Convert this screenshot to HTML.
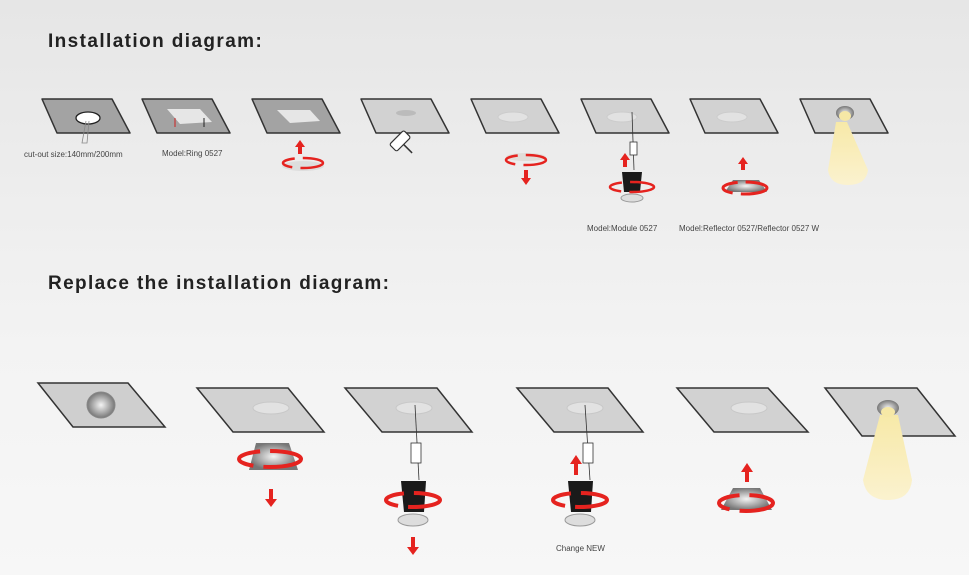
<!DOCTYPE html>
<html><head><meta charset="utf-8"><style>
html,body{margin:0;padding:0;width:969px;height:575px;overflow:hidden}
body{background:linear-gradient(#e6e6e6,#f3f3f3 60%,#f7f7f7);font-family:"Liberation Sans",sans-serif}
</style></head><body>
<svg width="969" height="575" viewBox="0 0 969 575" xmlns="http://www.w3.org/2000/svg" font-family="Liberation Sans, sans-serif">
<defs>
<linearGradient id="beam" x1="0" y1="0" x2="0" y2="1"><stop offset="0" stop-color="#f7e9a8"/><stop offset="1" stop-color="#fbf2cf"/></linearGradient>
<radialGradient id="refl" cx="0.5" cy="0.5" r="0.5"><stop offset="0" stop-color="#f4f4f4"/><stop offset="0.6" stop-color="#aaa"/><stop offset="1" stop-color="#777"/></radialGradient>
</defs>
<text x="48" y="47" font-size="19" font-weight="bold" fill="#222" letter-spacing="1.4">Installation diagram:</text>
<text x="48" y="289" font-size="19" font-weight="bold" fill="#222" letter-spacing="1.35">Replace the installation diagram:</text>

<g stroke-linejoin="round">
<polygon points="42,99 112,99 130,133 57,133" fill="#a3a3a3" stroke="#333" stroke-width="1.5"/>
<polygon points="142,99 212,99 230,133 157,133" fill="#a3a3a3" stroke="#333" stroke-width="1.5"/>
<polygon points="252,99 322,99 340,133 267,133" fill="#a3a3a3" stroke="#333" stroke-width="1.5"/>
<polygon points="361,99 431,99 449,133 376,133" fill="#d2d2d2" stroke="#333" stroke-width="1.5"/>
<polygon points="471,99 541,99 559,133 486,133" fill="#d2d2d2" stroke="#333" stroke-width="1.5"/>
<polygon points="581,99 651,99 669,133 596,133" fill="#d2d2d2" stroke="#333" stroke-width="1.5"/>
<polygon points="690,99 760,99 778,133 705,133" fill="#d2d2d2" stroke="#333" stroke-width="1.5"/>
<polygon points="800,99 870,99 888,133 815,133" fill="#d2d2d2" stroke="#333" stroke-width="1.5"/>
</g>
<ellipse cx="88" cy="118" rx="12" ry="6" fill="#fff" stroke="#222" stroke-width="1.3"/>
<path d="M86 121 l-4 22 l5 0 l2-22" fill="none" stroke="#888" stroke-width="0.8"/>
<polygon points="167,109 200,109 212,122 180,124" fill="#e6e6e6"/>
<line x1="175" y1="118" x2="175" y2="127" stroke="#c22" stroke-width="1"/><line x1="204" y1="118" x2="204" y2="127" stroke="#222" stroke-width="1"/>
<polygon points="277,110 310,110 320,121 290,123" fill="#e6e6e6"/>
<ellipse cx="406" cy="113" rx="10" ry="3" fill="#bbb"/>
<g transform="translate(393,148) rotate(-45)"><rect x="0" y="-5" width="20" height="10" rx="2" fill="#fff" stroke="#333" stroke-width="1.2"/><line x1="10" y1="5" x2="10" y2="17" stroke="#333" stroke-width="1.5"/></g>
<ellipse cx="513" cy="117" rx="15" ry="5" fill="#e2e2e2" stroke="#ccc"/>
<ellipse cx="622" cy="117" rx="15" ry="5" fill="#e2e2e2" stroke="#ccc"/>
<ellipse cx="732" cy="117" rx="15" ry="5" fill="#e2e2e2" stroke="#ccc"/>
<path d="M836 122 L847 122 L868 170 Q866 185 848 185 Q830 185 828 170 Z" fill="url(#beam)"/>
<ellipse cx="845" cy="113" rx="9" ry="7" fill="url(#refl)"/>
<ellipse cx="845" cy="116" rx="6" ry="5" fill="#f6e8a6"/>

<text x="24" y="157" font-size="8" fill="#444">cut-out size:140mm/200mm</text>
<text x="162" y="156" font-size="8" fill="#444">Model:Ring 0527</text>
<text x="587" y="231" font-size="8" fill="#444">Model:Module 0527</text>
<text x="679" y="231" font-size="8" fill="#444">Model:Reflector 0527/Reflector 0527 W</text>

<g fill="#e5231f" stroke="#e5231f">
<polygon points="300,140 305,147 302,147 302,154 298,154 298,147 295,147" stroke="none"/>
<ellipse cx="303" cy="166" rx="21" ry="5" fill="#ddd" stroke="none"/>
<ellipse cx="303" cy="163" rx="20" ry="5" fill="none" stroke-width="2.5" stroke-dasharray="24 8"/>
<ellipse cx="526" cy="157" rx="20" ry="4" fill="#e1ddd8" stroke="none"/>
<ellipse cx="526" cy="160" rx="20" ry="5" fill="none" stroke-width="2.5" stroke-dasharray="24 8"/>
<polygon points="524,170 528,170 528,178 531,178 526,185 521,178 524,178" stroke="none"/>
<polygon points="625,153 630,160 627,160 627,167 623,167 623,160 620,160" stroke="none"/>
</g>
<line x1="632" y1="112" x2="634" y2="170" stroke="#333" stroke-width="0.8"/>
<rect x="630" y="142" width="7" height="13" fill="#fff" stroke="#333" stroke-width="0.8"/>
<polygon points="622,172 642,172 640,192 624,192" fill="#1a1a1a"/>
<ellipse cx="632" cy="198" rx="11" ry="4" fill="#ddd" stroke="#999"/>
<ellipse cx="632" cy="187" rx="22" ry="5" fill="none" stroke="#e5231f" stroke-width="2.5" stroke-dasharray="26 8"/>
<path d="M733 180 L759 180 L767 192 L725 192 Z" fill="url(#refl)"/>
<ellipse cx="745" cy="188" rx="22" ry="6" fill="none" stroke="#e5231f" stroke-width="3" stroke-dasharray="28 8"/>
<polygon points="743,157 748,164 745,164 745,170 741,170 741,164 738,164" fill="#e5231f"/>

<polygon points="38,383 128,383 165,427 73,427" fill="#cfcfcf" stroke="#333" stroke-width="1.5"/>
<polygon points="197,388 288,388 324,432 233,432" fill="#d2d2d2" stroke="#333" stroke-width="1.5"/>
<polygon points="345,388 437,388 472,432 382,432" fill="#d2d2d2" stroke="#333" stroke-width="1.5"/>
<polygon points="517,388 608,388 643,432 554,432" fill="#d2d2d2" stroke="#333" stroke-width="1.5"/>
<polygon points="677,388 768,388 808,432 714,432" fill="#d2d2d2" stroke="#333" stroke-width="1.5"/>
<polygon points="825,388 917,388 955,436 862,436" fill="#d2d2d2" stroke="#333" stroke-width="1.5"/>

<ellipse cx="101" cy="405" rx="14" ry="13" fill="url(#refl)" stroke="#888"/>
<ellipse cx="271" cy="408" rx="18" ry="6" fill="#e2e2e2" stroke="#c8c8c8"/>
<ellipse cx="414" cy="408" rx="18" ry="6" fill="#e2e2e2" stroke="#c8c8c8"/>
<ellipse cx="585" cy="408" rx="18" ry="6" fill="#e2e2e2" stroke="#c8c8c8"/>
<ellipse cx="749" cy="408" rx="18" ry="6" fill="#e2e2e2" stroke="#c8c8c8"/>
<path d="M880 415 L898 415 L912 480 Q910 500 888 500 Q866 500 863 480 Z" fill="url(#beam)"/>
<ellipse cx="888" cy="408" rx="11" ry="8" fill="url(#refl)"/>
<ellipse cx="888" cy="412" rx="7" ry="5" fill="#f6e8a6"/>

<path d="M256 443 L289 443 L298 470 L249 470 Z" fill="url(#refl)"/>
<ellipse cx="270" cy="459" rx="31" ry="8" fill="none" stroke="#e5231f" stroke-width="4" stroke-dasharray="40 10"/>
<polygon points="269,489 273,489 273,499 277,499 271,507 265,499 269,499" fill="#e5231f"/>
<line x1="415" y1="405" x2="419" y2="480" stroke="#333" stroke-width="0.8"/>
<rect x="411" y="443" width="10" height="20" fill="#fff" stroke="#333" stroke-width="0.8"/>
<polygon points="401,481 426,481 424,512 404,512" fill="#1a1a1a"/>
<ellipse cx="413" cy="520" rx="15" ry="6" fill="#ddd" stroke="#999"/>
<ellipse cx="413" cy="500" rx="27" ry="7" fill="none" stroke="#e5231f" stroke-width="4" stroke-dasharray="34 10"/>
<polygon points="411,537 415,537 415,547 419,547 413,555 407,547 411,547" fill="#e5231f"/>
<text x="556" y="551" font-size="8" fill="#444">Change NEW</text>
<line x1="585" y1="405" x2="590" y2="480" stroke="#333" stroke-width="0.8"/>
<rect x="583" y="443" width="10" height="20" fill="#fff" stroke="#333" stroke-width="0.8"/>
<polygon points="568,481 593,481 591,512 571,512" fill="#1a1a1a"/>
<ellipse cx="580" cy="520" rx="15" ry="6" fill="#ddd" stroke="#999"/>
<ellipse cx="580" cy="500" rx="27" ry="7" fill="none" stroke="#e5231f" stroke-width="4" stroke-dasharray="34 10"/>
<polygon points="576,455 582,464 578,464 578,475 574,475 574,464 570,464" fill="#e5231f"/>
<path d="M733 488 L760 488 L772 510 L721 510 Z" fill="url(#refl)"/>
<ellipse cx="746" cy="503" rx="27" ry="8" fill="none" stroke="#e5231f" stroke-width="4" stroke-dasharray="36 10"/>
<polygon points="747,463 753,472 749,472 749,482 745,482 745,472 741,472" fill="#e5231f"/>
</svg>
</body></html>
